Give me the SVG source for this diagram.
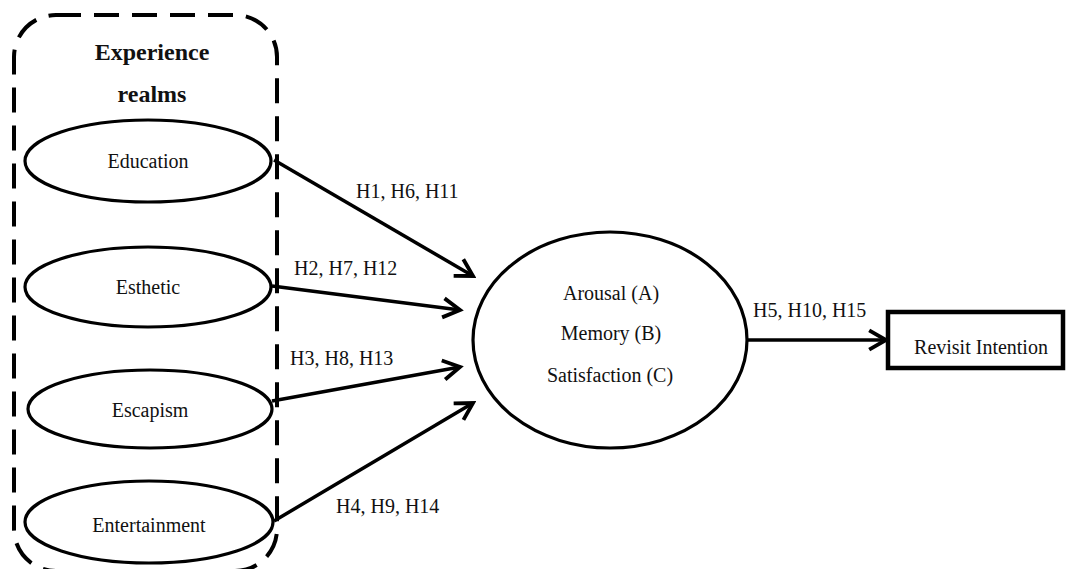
<svg xmlns="http://www.w3.org/2000/svg" width="1067" height="569" viewBox="0 0 1067 569">
<style>
text{font-family:"Liberation Serif","Times New Roman",serif;font-size:20px;fill:#111;}
.ttl{font-weight:bold;font-size:24px;}
.node{fill:#fff;stroke:#000;stroke-width:3.2;}
.conn{stroke:#000;stroke-width:3.5;fill:none;marker-end:url(#arr);}
</style>
<defs>
<marker id="arr" viewBox="0 0 20 20" refX="17" refY="10" markerWidth="24" markerHeight="24" markerUnits="userSpaceOnUse" orient="auto">
<path d="M3,2 L17,10 L3,18" fill="none" stroke="#000" stroke-width="3.2"/>
</marker>
</defs>
<rect x="14" y="15" width="263" height="556" rx="42" fill="none" stroke="#000" stroke-width="4" stroke-dasharray="25 13"/>
<text class="ttl" x="152" y="60" text-anchor="middle">Experience</text>
<text class="ttl" x="152" y="102" text-anchor="middle">realms</text>
<g id="education"><ellipse class="node" cx="148" cy="161" rx="123" ry="41"/><text x="148" y="168" text-anchor="middle">Education</text></g>
<g id="esthetic"><ellipse class="node" cx="148" cy="287" rx="123" ry="40"/><text x="148" y="294" text-anchor="middle">Esthetic</text></g>
<g id="escapism"><ellipse class="node" cx="150" cy="409" rx="122" ry="39"/><text x="150" y="417" text-anchor="middle">Escapism</text></g>
<g id="entertainment"><ellipse class="node" cx="149" cy="522" rx="124" ry="41"/><text x="149" y="532" text-anchor="middle">Entertainment</text></g>
<g id="mediators"><ellipse class="node" cx="610" cy="340" rx="137" ry="108"/>
<text x="611" y="300" text-anchor="middle">Arousal (A)</text>
<text x="611" y="340" text-anchor="middle">Memory (B)</text>
<text x="610" y="382" text-anchor="middle">Satisfaction (C)</text></g>
<g id="revisit"><rect x="888" y="312" width="175" height="56" fill="#fff" stroke="#000" stroke-width="4.5"/><text x="981" y="354" text-anchor="middle">Revisit Intention</text></g>
<g id="connectors">
<line class="conn" x1="274" y1="160" x2="473" y2="276"/>
<line class="conn" x1="272" y1="286" x2="460" y2="310"/>
<line class="conn" x1="272" y1="401" x2="460" y2="367"/>
<line class="conn" x1="274" y1="521" x2="473" y2="403"/>
<line class="conn" x1="747" y1="340" x2="886" y2="340"/>
<text x="356" y="198">H1, H6, H11</text>
<text x="294" y="275">H2, H7, H12</text>
<text x="290" y="365">H3, H8, H13</text>
<text x="336" y="513">H4, H9, H14</text>
<text x="753" y="317">H5, H10, H15</text>
</g>
</svg>
